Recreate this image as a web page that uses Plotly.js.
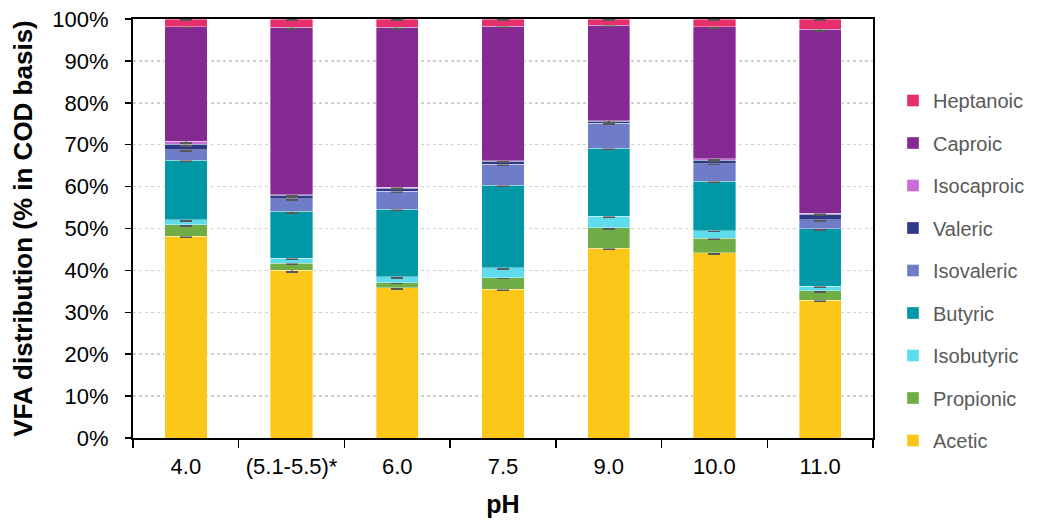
<!DOCTYPE html>
<html>
<head>
<meta charset="utf-8">
<script src="https://cdn.plot.ly/plotly-3.0.1.min.js"></script>
<style>html,body{margin:0;padding:0;background:#fff;}#chart{width:1045px;height:523px;}</style>
</head>
<body>
<div id="chart"></div>
<script>
const categories = ['4.0', '(5.1-5.5)*', '6.0', '7.5', '9.0', '10.0', '11.0'];

const acetic     = [48.2, 40.0, 35.9, 35.5, 45.3, 44.2, 32.9];
const propionic  = [2.7, 1.7, 1.2, 2.8, 4.9, 3.5, 2.2];
const isobutyric = [1.2, 1.2, 1.4, 2.3, 2.7, 1.8, 1.1];
const butyric    = [14.2, 11.2, 16.1, 19.7, 16.3, 11.8, 13.7];
const isovaleric = [2.5, 3.0, 4.3, 5.0, 5.9, 4.2, 2.2];
const valeric    = [1.3, 0.8, 0.7, 0.7, 0.5, 0.8, 1.3];
const isocaproic = [0.7, 0.2, 0.3, 0.2, 0.1, 0.3, 0.2];
const caproic    = [27.4, 39.9, 38.1, 32.1, 22.8, 31.5, 43.9];
const heptanoic  = [1.8, 2.0, 2.0, 1.7, 1.5, 1.9, 2.5];

const err_acetic     = [0.3, 0.3, 0.3, 0.2, 0.2, 0.2, 0.2];
const err_propionic  = [0.2, 0.2, 0.2, 0.2, 0.2, 0.2, 0.2];
const err_isobutyric = [0.2, 0.2, 0.2, 0.2, 0.2, 0.2, 0.2];
const err_butyric    = [0.2, 0.3, 0.2, 0.2, 0.2, 0.2, 0.2];
const err_isovaleric = [0.2, 0.2, 0.2, 0.2, 0.2, 0.2, 0.2];
const err_valeric    = [0.3, 0.3, 0.2, 0.2, 0.2, 0.2, 0.2];
const err_isocaproic = [0.5, 0.4, 0.3, 0.3, 0.5, 0.3, 0.2];
const err_caproic    = [0.2, 0.3, 0.3, 0.2, 0.2, 0.2, 0.3];
const err_heptanoic  = [0.2, 0.2, 0.2, 0.2, 0.2, 0.2, 0.2];

const seriesNames = ['Acetic', 'Propionic', 'Isobutyric', 'Butyric', 'Isovaleric', 'Valeric', 'Isocaproic', 'Caproic', 'Heptanoic'];
const seriesValues = [acetic, propionic, isobutyric, butyric, isovaleric, valeric, isocaproic, caproic, heptanoic];
const seriesErrors = [err_acetic, err_propionic, err_isobutyric, err_butyric, err_isovaleric, err_valeric, err_isocaproic, err_caproic, err_heptanoic];
const seriesColors = ['#FCC719', '#70AD47', '#5EDCEC', '#0097A7', '#6F7DC8', '#2E3A87', '#C86DD7', '#862A93', '#E6306E'];

const traces = seriesNames.map((name, i) => ({
  type: 'bar',
  name: name,
  x: categories,
  y: seriesValues[i],
  legendgroup: name,
  legendrank: seriesNames.length - i,
  marker: {color: seriesColors[i], line: {color: 'rgba(255,255,255,0.45)', width: 0.8}},
  error_y: {type: 'data', array: seriesErrors[i], visible: true, color: '#595959', thickness: 2, width: 6},
  hoverinfo: 'x+y+name'
}));

const layout = {
  width: 1045,
  height: 523,
  barmode: 'stack',
  bargap: 0.6,
  paper_bgcolor: '#ffffff',
  plot_bgcolor: '#ffffff',
  margin: {l: 133, r: 172, t: 19, b: 85},
  font: {family: 'Liberation Sans, Arial, sans-serif', color: '#000'},
  showlegend: true,
  legend: {
    x: 1.027, xanchor: 'left', y: 0.852, yanchor: 'top',
    traceorder: 'grouped',
    tracegroupgap: 13.5,
    font: {size: 20, color: '#595959'},
    bgcolor: 'rgba(0,0,0,0)',
    itemwidth: 30
  },
  xaxis: {
    type: 'category',
    range: [-0.5, 6.5],
    tickson: 'boundaries',
    ticks: 'outside', ticklen: 8, tickwidth: 1.5, tickcolor: '#000',
    ticklabelstandoff: 8,
    showline: true, linecolor: '#000', linewidth: 2, mirror: true,
    tickfont: {size: 22, color: '#000'},
    title: {text: '<b>pH</b>', font: {size: 25, color: '#000'}, standoff: 17},
    showgrid: false, zeroline: false
  },
  yaxis: {
    range: [0, 100],
    dtick: 10,
    ticksuffix: '%',
    ticks: 'outside', ticklen: 6, tickwidth: 1.5, tickcolor: '#000',
    ticklabelstandoff: 12,
    showline: true, linecolor: '#000', linewidth: 2, mirror: true,
    tickfont: {size: 22, color: '#000'},
    showgrid: true, gridcolor: '#d0d0d0', gridwidth: 1.5, griddash: 'dot',
    zeroline: false,
    title: {text: '<b>VFA distribution (% in COD basis)</b>', font: {size: 26, color: '#000'}, standoff: 12}
  },
  xaxis2: {
    overlaying: 'x', anchor: 'y', side: 'bottom',
    range: [-0.5, 6.5],
    tickmode: 'array', tickvals: [-0.5, 0.5, 1.5, 2.5, 3.5, 4.5, 5.5, 6.5],
    ticks: 'inside', ticklen: 5, tickwidth: 1.5, tickcolor: '#000',
    showticklabels: false, showgrid: false, zeroline: false, showline: false
  },
  yaxis2: {
    overlaying: 'y', anchor: 'x', side: 'left',
    range: [0, 100], dtick: 10,
    ticks: 'inside', ticklen: 5, tickwidth: 1.5, tickcolor: '#000',
    showticklabels: false, showgrid: false, zeroline: false, showline: false
  }
};

Plotly.newPlot('chart', traces, layout, {displayModeBar: false, staticPlot: true});
</script>
</body>
</html>
